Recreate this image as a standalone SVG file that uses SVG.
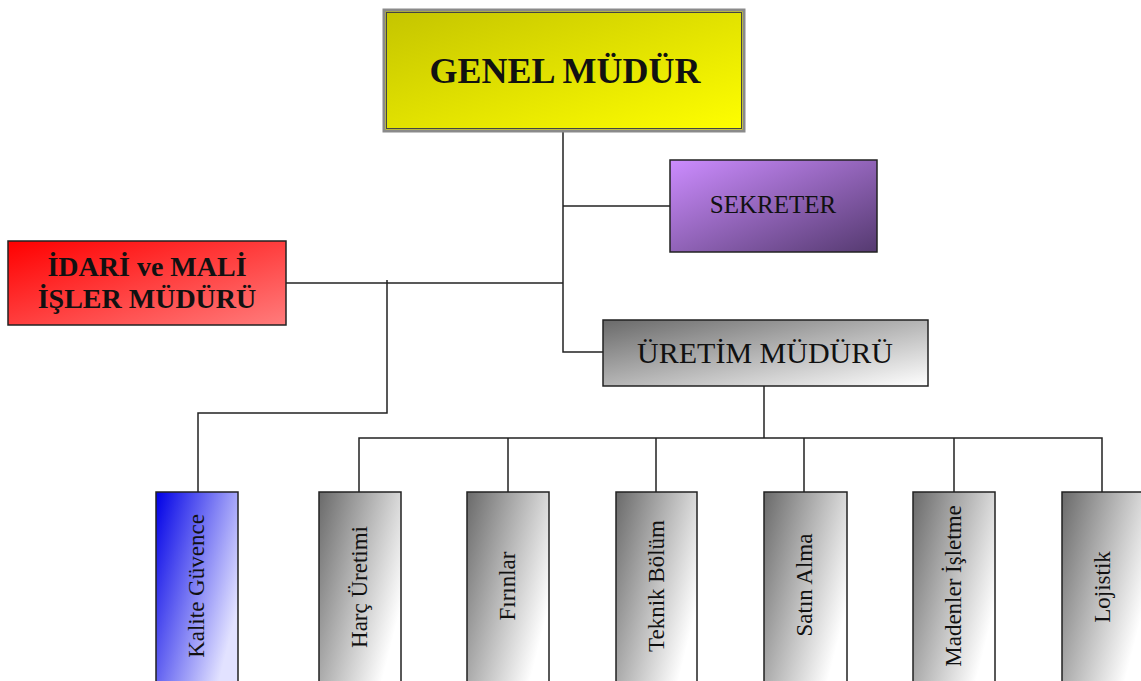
<svg xmlns="http://www.w3.org/2000/svg" width="1141" height="681" viewBox="0 0 1141 681">
<defs>
<linearGradient id="gY" x1="0" y1="0" x2="1" y2="1"><stop offset="0" stop-color="#c4c400"/><stop offset="1" stop-color="#ffff00"/></linearGradient>
<linearGradient id="gP" x1="0" y1="0" x2="1" y2="1"><stop offset="0" stop-color="#cc8cff"/><stop offset="1" stop-color="#553a70"/></linearGradient>
<linearGradient id="gR" x1="0" y1="0" x2="1" y2="1"><stop offset="0" stop-color="#ff0000"/><stop offset="1" stop-color="#ff7c7c"/></linearGradient>
<linearGradient id="gG" x1="0" y1="0" x2="1" y2="1"><stop offset="0" stop-color="#6a6a6a"/><stop offset="1" stop-color="#ffffff"/></linearGradient>
<linearGradient id="gV" x1="0" y1="0" x2="1" y2="0.6"><stop offset="0" stop-color="#6a6a6a"/><stop offset="1" stop-color="#ffffff"/></linearGradient>
<linearGradient id="gVB" x1="0" y1="0" x2="1" y2="0.6"><stop offset="0" stop-color="#0000e6"/><stop offset="1" stop-color="#e2e2ff"/></linearGradient>
</defs>
<style>
.box{stroke:#222;stroke-width:1.5}
.t{font-family:"Liberation Serif","Times New Roman",serif;fill:#111;text-anchor:middle}
.v{font-size:23px}
.c{fill:none;stroke:#222;stroke-width:1.5}
</style>
<g id="connectors">
<path class="c" d="M563 131 V352 H603"/>
<path class="c" d="M563 206 H670"/>
<path class="c" d="M286 283 H563"/>
<path class="c" d="M387 280 V413 H198 V492"/>
<path class="c" d="M764 386 V438"/>
<path class="c" d="M359 492 V438 H1102 V492"/>
<path class="c" d="M508 438 V492 M656 438 V492 M804 438 V492 M954 438 V492"/>
</g>
<g id="genel">
<rect x="384" y="10" width="360" height="121" fill="url(#gY)" stroke="#8a8a8a" stroke-width="3"/>
<rect x="386.5" y="12.5" width="355" height="116" fill="none" stroke="#444" stroke-width="1"/>
<text class="t" x="565" y="83" font-size="36" font-weight="bold">GENEL MÜDÜR</text>
</g>
<g id="sekreter">
<rect class="box" x="670" y="160" width="207" height="92" fill="url(#gP)"/>
<text class="t" x="773" y="213" font-size="25" fill="#1a1030">SEKRETER</text>
</g>
<g id="idari">
<rect class="box" x="8" y="241" width="278" height="84" fill="url(#gR)"/>
<text class="t" x="147" y="276" font-size="28" font-weight="bold" fill="#1a0000">İDARİ ve MALİ</text>
<text class="t" x="147" y="308" font-size="28" font-weight="bold" fill="#1a0000">İŞLER MÜDÜRÜ</text>
</g>
<g id="uretim">
<rect class="box" x="603" y="320" width="325" height="66" fill="url(#gG)"/>
<text class="t" x="765" y="363" font-size="30">ÜRETİM MÜDÜRÜ</text>
</g>
<g id="kalite">
<rect class="box" x="156" y="492" width="82" height="192" fill="url(#gVB)"/>
<text class="t v" transform="translate(204 586) rotate(-90)">Kalite Güvence</text>
</g>
<g id="harc">
<rect class="box" x="319" y="492" width="82" height="192" fill="url(#gV)"/>
<text class="t v" transform="translate(367 587) rotate(-90)">Harç Üretimi</text>
</g>
<g id="firinlar">
<rect class="box" x="467" y="492" width="82" height="192" fill="url(#gV)"/>
<text class="t v" transform="translate(515 586) rotate(-90)">Fırınlar</text>
</g>
<g id="teknik">
<rect class="box" x="616" y="492" width="81" height="192" fill="url(#gV)"/>
<text class="t v" transform="translate(664 586) rotate(-90)">Teknik Bölüm</text>
</g>
<g id="satin">
<rect class="box" x="764" y="492" width="83" height="192" fill="url(#gV)"/>
<text class="t v" transform="translate(812 585) rotate(-90)">Satın Alma</text>
</g>
<g id="madenler">
<rect class="box" x="913" y="492" width="82" height="192" fill="url(#gV)"/>
<text class="t v" transform="translate(961 586) rotate(-90)">Madenler İşletme</text>
</g>
<g id="lojistik">
<rect class="box" x="1062" y="492" width="82" height="192" fill="url(#gV)"/>
<text class="t v" transform="translate(1110 587) rotate(-90)">Lojistik</text>
</g>
</svg>
